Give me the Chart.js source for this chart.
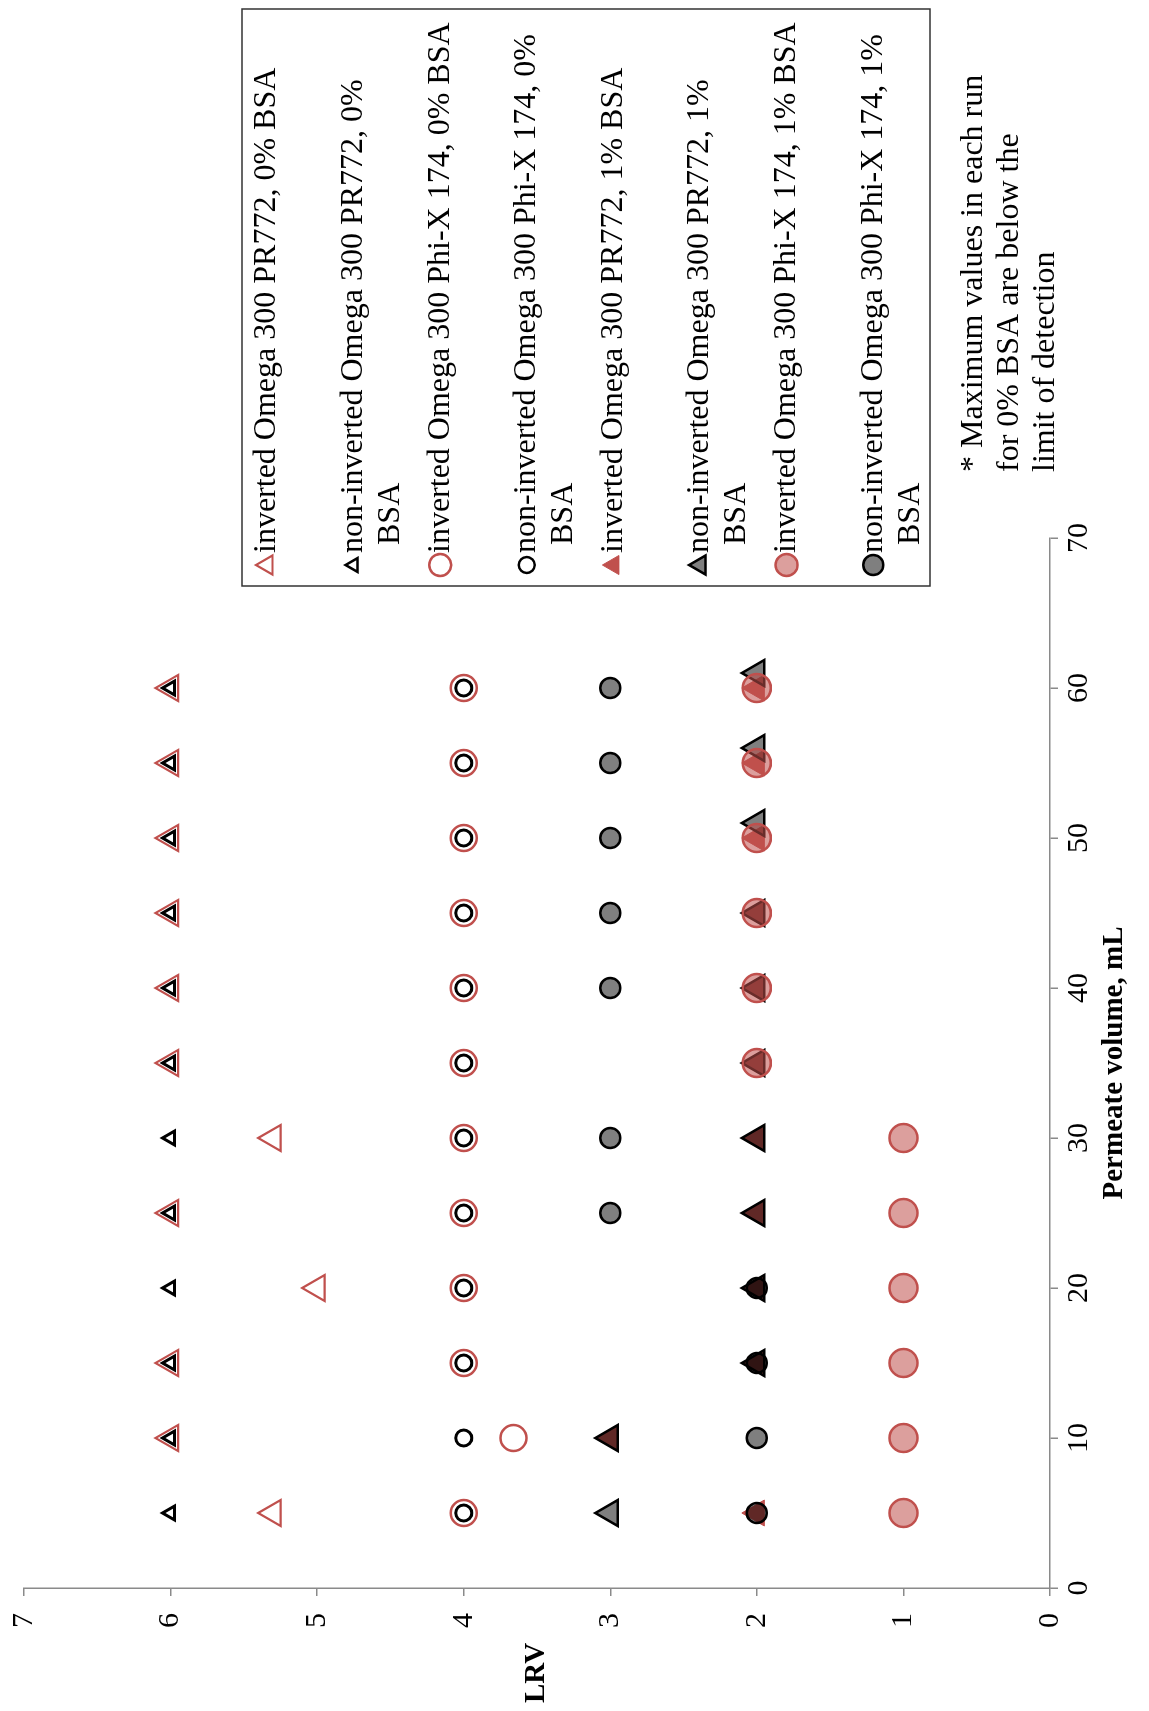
<!DOCTYPE html>
<html>
<head>
<meta charset="utf-8">
<title>LRV vs permeate volume</title>
<script src="https://cdn.jsdelivr.net/npm/chart.js@4.4.1/dist/chart.umd.min.js"></script>
<style>
  html, body { margin: 0; padding: 0; overflow: hidden; background: #fff; }
  /* chart is laid out landscape, then turned a quarter turn to sit on the portrait page */
  #wrap {
    position: absolute; left: 0; top: 0;
    width: 1711px; height: 1149px;
    transform-origin: 0 0;
    transform: translateY(1711px) rotate(-90deg);
  }
</style>
</head>
<body>
<div id="wrap"><canvas id="lrvChart" width="1711" height="1149"></canvas></div>
<script>
// Permeate volume (mL) at each sample
const volumes = [5, 10, 15, 20, 25, 30, 35, 40, 45, 50, 55, 60];
const volumesNonInvPR772Bsa = [5, 10, 15, 20, 25, 30, 35, 40, 45, 51, 56, 61];
const volumesNonInvPhiXBsa = [5, 10, 15, 20, 25, 30, 40, 45, 50, 55, 60];

// LRV per run
const lrvInvPR772 = [5.3, 6, 6, 5.0, 6, 5.3, 6, 6, 6, 6, 6, 6];
const lrvNonInvPR772 = [6, 6, 6, 6, 6, 6, 6, 6, 6, 6, 6, 6];
const lrvInvPhiX = [4, 3.66, 4, 4, 4, 4, 4, 4, 4, 4, 4, 4];
const lrvNonInvPhiX = [4, 4, 4, 4, 4, 4, 4, 4, 4, 4, 4, 4];
const lrvInvPR772Bsa = [2, 3, 2, 2, 2, 2, 2, 2, 2, 2, 2, 2];
const lrvNonInvPR772Bsa = [3, 3, 2, 2, 2, 2, 2, 2, 2, 2, 2, 2];
const lrvInvPhiXBsa = [1, 1, 1, 1, 1, 1, 2, 2, 2, 2, 2, 2];
const lrvNonInvPhiXBsa = [2, 2, 2, 2, 3, 3, 3, 3, 3, 3, 3];

const legendLines = [
  ['inverted Omega 300 PR772, 0% BSA'],
  ['non-inverted Omega 300 PR772, 0%', 'BSA'],
  ['inverted Omega 300 Phi-X 174, 0% BSA'],
  ['non-inverted Omega 300 Phi-X 174, 0%', 'BSA'],
  ['inverted Omega 300 PR772, 1% BSA'],
  ['non-inverted Omega 300 PR772, 1%', 'BSA'],
  ['inverted Omega 300 Phi-X 174, 1% BSA'],
  ['non-inverted Omega 300 Phi-X 174, 1%', 'BSA']
];

const noteLines = ['* Maximum values in each run', 'for 0% BSA are below the', 'limit of detection'];

const RED = '#C0504D';
const SERIF = '"Liberation Serif", "Times New Roman", serif';
const AXIS_GREY = '#8a8a8a';

function pts(xs, ys) {
  return xs.map((x, i) => ({ x: x, y: ys[i] }));
}

function series(i, xs, ys, style) {
  return Object.assign({
    label: legendLines[i].join(' '),
    data: pts(xs, ys),
    showLine: false,
    order: 8 - i,   // later series sit on top
    pointHoverRadius: style.pointRadius
  }, style);
}

const datasets = [
  series(0, volumes, lrvInvPR772, {
    pointStyle: 'triangle', pointRadius: 15, pointBackgroundColor: 'rgba(0,0,0,0)',
    pointBorderColor: RED, pointBorderWidth: 2.2 }),
  series(1, volumes, lrvNonInvPR772, {
    pointStyle: 'triangle', pointRadius: 8, pointBackgroundColor: 'rgba(0,0,0,0)',
    pointBorderColor: '#000', pointBorderWidth: 3 }),
  series(2, volumes, lrvInvPhiX, {
    pointStyle: 'circle', pointRadius: 13, pointBackgroundColor: 'rgba(0,0,0,0)',
    pointBorderColor: RED, pointBorderWidth: 2.5 }),
  series(3, volumes, lrvNonInvPhiX, {
    pointStyle: 'circle', pointRadius: 8, pointBackgroundColor: 'rgba(0,0,0,0)',
    pointBorderColor: '#000', pointBorderWidth: 3 }),
  series(4, volumes, lrvInvPR772Bsa, {
    pointStyle: 'triangle', pointRadius: 15, pointBackgroundColor: RED,
    pointBorderColor: RED, pointBorderWidth: 1 }),
  series(5, volumesNonInvPR772Bsa, lrvNonInvPR772Bsa, {
    pointStyle: 'triangle', pointRadius: 15, pointBackgroundColor: 'rgba(0,0,0,0.5)',
    pointBorderColor: '#000', pointBorderWidth: 2.5 }),
  series(6, volumes, lrvInvPhiXBsa, {
    pointStyle: 'circle', pointRadius: 14, pointBackgroundColor: 'rgba(192,80,77,0.55)',
    pointBorderColor: RED, pointBorderWidth: 2.5 }),
  series(7, volumesNonInvPhiXBsa, lrvNonInvPhiXBsa, {
    pointStyle: 'circle', pointRadius: 10, pointBackgroundColor: 'rgba(0,0,0,0.5)',
    pointBorderColor: '#000', pointBorderWidth: 2.5 })
];

function drawSwatch(ctx, ds, x, y) {
  const r = Math.min(ds.pointRadius, 11);
  ctx.beginPath();
  if (ds.pointStyle === 'triangle') {
    const s = Math.sin(2 * Math.PI / 3) * r;
    ctx.moveTo(x, y - r);
    ctx.lineTo(x + s, y + r / 2);
    ctx.lineTo(x - s, y + r / 2);
    ctx.closePath();
  } else {
    ctx.arc(x, y, r, 0, Math.PI * 2);
  }
  ctx.fillStyle = ds.pointBackgroundColor;
  ctx.fill();
  ctx.lineWidth = Math.min(ds.pointBorderWidth, 2.5);
  ctx.strokeStyle = ds.pointBorderColor;
  ctx.stroke();
}

// boxed legend with wrapped entries, the footnote and the horizontal LRV title
const annotations = {
  id: 'annotations',
  afterDraw(chart) {
    const ctx = chart.ctx;
    const area = chart.chartArea;
    ctx.save();

    const box = { left: 1125, top: 242, width: 577, height: 688 };
    ctx.strokeStyle = '#333';
    ctx.lineWidth = 1.5;
    ctx.strokeRect(box.left, box.top, box.width, box.height);

    ctx.font = '32px ' + SERIF;
    ctx.fillStyle = '#000';
    ctx.textAlign = 'left';
    ctx.textBaseline = 'middle';
    const markX = box.left + 21;
    const textX = box.left + 33;
    chart.data.datasets.forEach((ds, i) => {
      const y = box.top + 25 + i * 86.6;
      drawSwatch(ctx, ds, markX, y);
      ctx.fillStyle = '#000';
      legendLines[i].forEach((line, k) => {
        ctx.fillText(line, textX + (k ? 8 : 0), y + k * 37);
      });
    });

    ctx.font = '32px ' + SERIF;
    noteLines.forEach((line, k) => {
      ctx.fillText(line, 1239, 974 + k * 36);
    });

    ctx.font = 'bold 29px ' + SERIF;
    ctx.textAlign = 'center';
    ctx.fillText('LRV', 38, (area.top + area.bottom) / 2);
    ctx.restore();
  }
};

const axisCommon = {
  type: 'linear',
  grid: { display: true, drawOnChartArea: false, drawTicks: true, tickLength: 8, color: AXIS_GREY, lineWidth: 1.5 },
  border: { display: true, color: AXIS_GREY, width: 1.5 }
};

Chart.defaults.font.family = SERIF;
Chart.defaults.color = '#000';

const ctx = document.getElementById('lrvChart').getContext('2d');
const lrvChart = new Chart(ctx, {
  type: 'scatter',
  data: { datasets: datasets },
  options: {
    responsive: false,
    animation: false,
    clip: false,
    layout: { padding: { top: 24, right: 538, bottom: 0, left: 0 } },
    plugins: {
      legend: { display: false },
      tooltip: { enabled: false }
    },
    scales: {
      x: Object.assign({}, axisCommon, {
        min: 0, max: 70,
        ticks: { stepSize: 10, font: { size: 30 }, padding: 3, color: '#000' },
        title: { display: true, text: 'Permeate volume, mL', color: '#000',
                 font: { size: 29, weight: 'bold' }, padding: { top: 0, bottom: 17 } },
        afterFit: scale => { scale.height = 99; }
      }),
      y: Object.assign({}, axisCommon, {
        min: 0, max: 7,
        ticks: { stepSize: 1, font: { size: 30 }, padding: 17, color: '#000' },
        afterFit: scale => {
          scale.width = 123;
          scale.paddingTop = 0;
          scale.paddingBottom = 0;
        }
      })
    }
  },
  plugins: [annotations]
});
</script>
</body>
</html>
